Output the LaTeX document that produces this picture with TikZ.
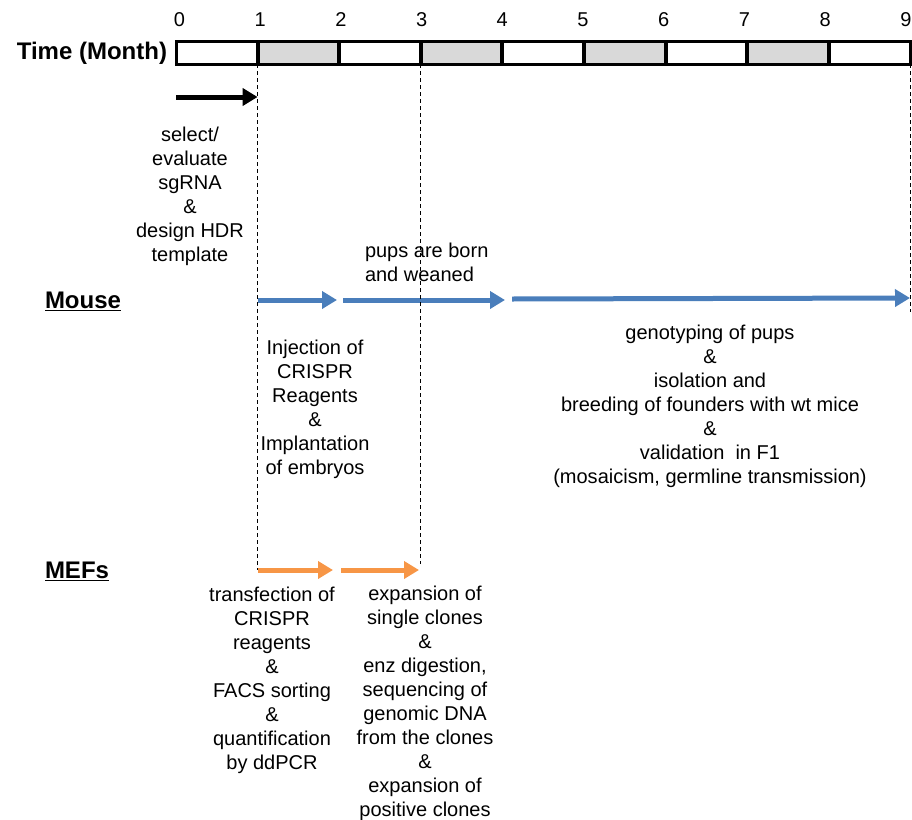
\documentclass[tikz,border=0pt]{standalone}
\usepackage{fontspec}
\setmainfont{Liberation Sans}
\usepackage{xcolor}
\usepackage{tikz}
\usetikzlibrary{arrows.meta, positioning}
\definecolor{mouseblue}{RGB}{74,126,187}
\definecolor{mefsorange}{RGB}{247,150,70}
\definecolor{cellgrey}{RGB}{217,217,217}

\begin{document}
\begin{tikzpicture}[x=1pt,y=-1pt,inner sep=0pt,outer sep=0pt,
  txt/.style={font=\fontsize{20}{24}\selectfont,align=center},
  lbl/.style={font=\fontsize{24}{28}\selectfont\bfseries},
  stage/.style={line width=5pt,-{Triangle[length=15pt,width=17pt]}},
  guide/.style={line width=0.8pt,dash pattern=on 4pt off 3pt}]
\useasboundingbox (0,0) rectangle (912,819);
% time bar
\foreach \i in {0,...,8} {
  \ifodd\i
    \fill[cellgrey] ({176+81.6*\i},41) rectangle ({257.6+81.6*\i},64);
  \fi
}
\foreach \i in {0,...,9} {
  \coordinate (t\i) at ({176+81.6*\i},64);
  \node[txt] (n\i) at ({179.5+80.7*\i},20) {\i};
}
\foreach \i in {1,...,8}
  \draw[line width=4pt] ({176+81.6*\i},41) -- (t\i);
\draw[line width=3pt] (176,41) rectangle (910.4,64);
\node[lbl,anchor=east] (timelbl) at (167,53) {Time (Month)};
% preparation
\coordinate (prep0) at (176,97);
\draw[stage,black] (prep0) -- (t1 |- prep0);
\node[txt,anchor=north] (preptxt) at (190,127) {select/\\evaluate\\sgRNA\\\&\\design HDR\\template};
% mouse row
\node[lbl,anchor=west] (mouse) at (45,301) {\underline{Mouse}};
\coordinate (m0) at (t1 |- 0,300);
\coordinate (m1) at (337,300);
\coordinate (m2) at (343,300);
\coordinate (m3) at (505,300);
\coordinate (m4) at (512,299);
\coordinate (m5) at (910,298);
\draw[stage,mouseblue] (m0) -- (m1);
\draw[stage,mouseblue] (m2) -- (m3);
\draw[stage,mouseblue] (m4) -- (m5);
\node[txt,align=left,anchor=north west] (borntxt) at (365,243) {pups are born\\and weaned};
\node[txt,anchor=north] (injtxt) at (315,340) {Injection of\\CRISPR\\Reagents\\\&\\Implantation\\of embryos};
\node[txt,anchor=north] (genotxt) at (710,325) {genotyping of pups\\\&\\isolation and\\breeding of founders with wt mice\\\&\\validation\ \ in F1\\(mosaicism, germline transmission)};
% MEFs row
\node[lbl,anchor=west] (mefs) at (45,571) {\underline{MEFs}};
\coordinate (c0) at (t1 |- 0,570);
\coordinate (c1) at (333,570);
\coordinate (c2) at (341,570);
\coordinate (c3) at (419,570);
\draw[stage,mefsorange] (c0) -- (c1);
\draw[stage,mefsorange] (c2) -- (c3);
\node[txt,anchor=north] (transtxt) at (272,587) {transfection of\\CRISPR\\reagents\\\&\\FACS sorting\\\&\\quantification\\by ddPCR};
\node[txt,anchor=north] (expandtxt) at (425,586) {expansion\ of\\single\ clones\\\&\\enz digestion,\\sequencing of\\genomic DNA\\from the clones\\\&\\expansion\ of\\positive\ clones};
% guides
\draw[guide] (t1) -- (c0);
\draw[guide] (t3) -- (t3 |- 0,564);
\draw[guide] (t9) -- (t9 |- 0,312);
\end{tikzpicture}
\end{document}
